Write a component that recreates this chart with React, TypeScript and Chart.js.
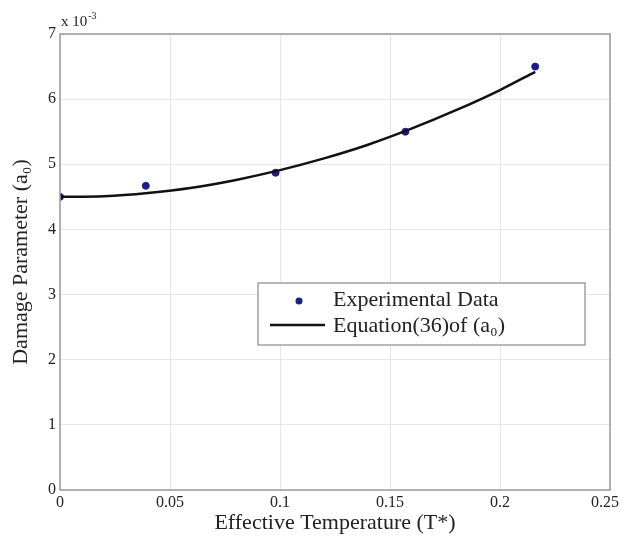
import React, { useEffect, useRef } from "react";
import { Chart, registerables } from "chart.js";

Chart.register(...registerables);

const expX = [0, 0.039, 0.098, 0.157, 0.216];
const expY = [4.5, 4.67, 4.87, 5.5, 6.5];

const fitX = [0, 0.02, 0.04, 0.06, 0.08, 0.1, 0.12, 0.14, 0.16, 0.18, 0.2, 0.216];
const fitY = [4.5, 4.51, 4.56, 4.64, 4.76, 4.91, 5.09, 5.3, 5.55, 5.83, 6.14, 6.42];

const xTicks = [0, 0.05, 0.1, 0.15, 0.2, 0.25];
const yTicks = [0, 1, 2, 3, 4, 5, 6, 7];

const seriesNames = ["Experimental Data", "Equation(36)of (a₀)"];

const FONT = "'Liberation Serif', 'DejaVu Serif', serif";
const POINT_COLOR = "#1c1c8a";

const framePlugin = {
  id: "frame",
  afterDraw(chart: any) {
    const { ctx, chartArea: a } = chart;
    ctx.save();
    ctx.strokeStyle = "#9a9a9a";
    ctx.lineWidth = 1.5;
    ctx.strokeRect(a.left, a.top, a.right - a.left, a.bottom - a.top);
    // x tick labels
    const xs = chart.scales.x;
    ctx.fillStyle = "#222";
    ctx.font = `16px ${FONT}`;
    ctx.textAlign = "center";
    ctx.textBaseline = "top";
    xTicks.forEach((v) => {
      const t = String(v);
      const half = ctx.measureText(t).width / 2;
      const px = Math.min(xs.getPixelForValue(v), 611 - half);
      ctx.fillText(t, px, a.bottom + 5);
    });
    // exponent label
    ctx.font = `15px ${FONT}`;
    ctx.textBaseline = "alphabetic";
    ctx.textAlign = "left";
    ctx.fillText("x 10", a.left + 1, a.top - 8);
    const w = ctx.measureText("x 10").width;
    ctx.font = `10px ${FONT}`;
    ctx.fillText("-3", a.left + 1 + w + 1, a.top - 15);
    // legend
    const lx = 258 - 8, ly = 283 - 8, lw = 327, lh = 62;
    ctx.fillStyle = "#fff";
    ctx.fillRect(lx, ly, lw, lh);
    ctx.strokeStyle = "#8a8a8a";
    ctx.lineWidth = 1.2;
    ctx.strokeRect(lx, ly, lw, lh);
    ctx.fillStyle = POINT_COLOR;
    ctx.beginPath();
    ctx.arc(lx + 41, ly + 18, 3.5, 0, Math.PI * 2);
    ctx.fill();
    ctx.strokeStyle = "#111";
    ctx.lineWidth = 2.5;
    ctx.beginPath();
    ctx.moveTo(lx + 12, ly + 42);
    ctx.lineTo(lx + 67, ly + 42);
    ctx.stroke();
    ctx.fillStyle = "#222";
    ctx.font = `22px ${FONT}`;
    ctx.textBaseline = "middle";
    ctx.fillText(seriesNames[0], lx + 75, ly + 17);
    ctx.fillText(seriesNames[1], lx + 75, ly + 43);
    ctx.restore();
  },
};

export default function App() {
  const ref = useRef<HTMLCanvasElement | null>(null);
  useEffect(() => {
    if (!ref.current) return;
    const chart = new Chart(ref.current, {
      type: "scatter",
      data: {
        datasets: [
          {
            label: seriesNames[1],
            data: fitX.map((x, i) => ({ x, y: fitY[i] })),
            showLine: true,
            borderColor: "#111",
            borderWidth: 2.5,
            pointRadius: 0,
            cubicInterpolationMode: "monotone",
          },
          {
            label: seriesNames[0],
            data: expX.map((x, i) => ({ x, y: expY[i] })),
            showLine: false,
            backgroundColor: POINT_COLOR,
            borderColor: POINT_COLOR,
            pointRadius: 3.5,
          },
        ],
      },
      options: {
        animation: false,
        responsive: false,
        layout: { padding: { top: 26, right: 18, left: 0, bottom: 0 } },
        plugins: { legend: { display: false }, tooltip: { enabled: false } },
        scales: {
          x: {
            type: "linear",
            min: 0,
            max: 0.25,
            afterBuildTicks: (s: any) => {
              s.ticks = xTicks.map((v) => ({ value: v }));
            },
            afterFit: (s: any) => {
              s.height = 46;
              s.paddingLeft = 0;
              s.paddingRight = 0;
            },
            ticks: {
              color: "rgba(0,0,0,0)",
              font: { family: FONT, size: 16 },
              padding: 5,
              callback: (v: any) => String(Number(v)),
            },
            grid: { color: "#e6e6e6", drawTicks: false },
            border: { display: false },
            title: {
              display: true,
              text: "Effective Temperature (T*)",
              color: "#222",
              font: { family: FONT, size: 22 },
              padding: { top: 0, bottom: 0 },
            },
          },
          y: {
            type: "linear",
            min: 0,
            max: 7,
            afterBuildTicks: (s: any) => {
              s.ticks = yTicks.map((v) => ({ value: v }));
            },
            afterFit: (s: any) => {
              s.width = 52;
              s.paddingTop = 0;
              s.paddingBottom = 0;
            },
            ticks: {
              color: "#222",
              font: { family: FONT, size: 16 },
              padding: 4,
            },
            grid: { color: "#e6e6e6", drawTicks: false },
            border: { display: false },
            title: {
              display: true,
              text: "Damage Parameter (a₀)",
              color: "#222",
              font: { family: FONT, size: 22 },
              padding: { top: 0, bottom: 0 },
            },
          },
        },
      },
      plugins: [framePlugin],
    });
    return () => chart.destroy();
  }, []);
  return (
    <div style={{ width: 620, height: 528 }}>
      <canvas ref={ref} width={620} height={528} style={{ display: "block" }} />
    </div>
  );
}
